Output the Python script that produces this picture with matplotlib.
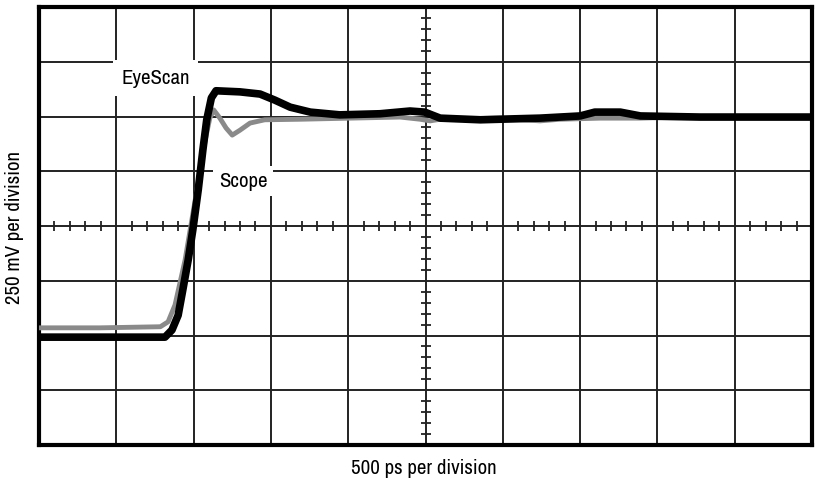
import matplotlib
matplotlib.use("Agg")
import matplotlib.pyplot as plt
import numpy as np

plt.rcParams['font.family'] = ['Archivo Narrow', 'DejaVu Sans']

# Data in screen divisions (x: 0-10, y: 0-8)
eyescan_x = [0.0, 1.63, 1.72, 1.80, 1.86, 1.93, 1.99, 2.06, 2.12, 2.17, 2.23, 2.29, 2.60, 2.86,
             3.05, 3.25, 3.51, 3.89, 4.41, 4.80, 4.99, 5.19, 5.71, 5.96, 6.48, 7.00, 7.19, 7.52,
             7.78, 8.55, 10.0]
eyescan_y = [1.97, 1.97, 2.10, 2.37, 2.83, 3.38, 3.93, 4.66, 5.39, 5.94, 6.34, 6.47, 6.45, 6.41,
             6.30, 6.17, 6.08, 6.03, 6.05, 6.10, 6.08, 5.97, 5.94, 5.95, 5.97, 6.01, 6.08, 6.08,
             6.01, 5.99, 5.99]

scope_x = [0.0, 0.79, 1.57, 1.67, 1.76, 1.89, 2.02, 2.15, 2.21, 2.26, 2.34, 2.42, 2.50, 2.60,
           2.73, 2.92, 3.38, 4.02, 4.67, 4.93, 5.06, 5.19, 5.96, 6.48, 6.74, 7.26, 7.78, 8.29, 10.0]
scope_y = [2.14, 2.14, 2.16, 2.25, 2.56, 3.38, 4.47, 5.57, 5.97, 6.12, 5.97, 5.79, 5.66, 5.75,
           5.88, 5.94, 5.95, 5.97, 5.99, 5.95, 5.92, 5.95, 5.97, 5.92, 5.95, 5.97, 5.97, 5.99, 5.99]

x_divisions = 10
y_divisions = 8
labels = ["EyeScan", "Scope"]
xlabel = "500 ps per division"
ylabel = "250 mV per division"

fig = plt.figure(figsize=(8.19, 4.87), dpi=100)
ax = fig.add_axes([39/819, 1-445/487, (812-39)/819, (445-7)/487])
ax.set_xlim(0, x_divisions)
ax.set_ylim(0, y_divisions)

for i in range(1, x_divisions):
    ax.axvline(i, color='#222222', lw=1.4, zorder=1)
for j in range(1, y_divisions):
    ax.axhline(j, color='#222222', lw=1.4, zorder=1)

# minor ticks on the center crosshair
cx, cy = x_divisions / 2, y_divisions / 2
mx = [k / 5 for k in range(x_divisions * 5 + 1) if k % 5 != 0]
my = [k / 5 for k in range(y_divisions * 5 + 1) if k % 5 != 0]
ax.plot(mx, [cy] * len(mx), linestyle='none', marker='|', markersize=6.5, mew=1.3, color='#222222', zorder=1)
ax.plot([cx] * len(my), my, linestyle='none', marker='_', markersize=6.5, mew=1.3, color='#222222', zorder=1)

ax.plot(scope_x, scope_y, color='#8a8a8a', lw=3.5, solid_joinstyle='round', zorder=3)
ax.plot(eyescan_x, eyescan_y, color='black', lw=5.5, solid_joinstyle='round', zorder=4)

ax.text(1.51, 6.70, labels[0], ha='center', va='center', fontsize=15, zorder=2,
        bbox=dict(facecolor='white', edgecolor='none', pad=6))
ax.text(2.64, 4.82, labels[1], ha='center', va='center', fontsize=15, zorder=2,
        bbox=dict(facecolor='white', edgecolor='none', pad=4))

ax.set_xticks([])
ax.set_yticks([])
for s in ax.spines.values():
    s.set_linewidth(3)
    s.set_color('black')

fig.text(424/819, 1-469/487, xlabel, ha='center', va='center', fontsize=15)
fig.text(15/819, 1-227/487, ylabel, ha='center', va='center', rotation=90, fontsize=15)

fig.savefig("out.png", dpi=100)
